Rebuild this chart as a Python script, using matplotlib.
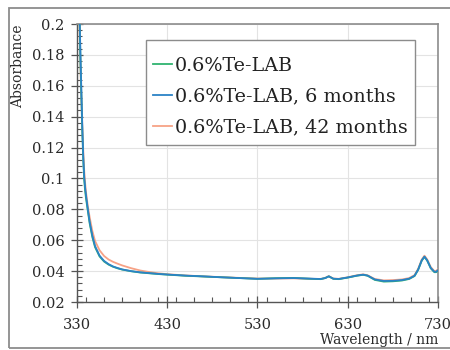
import matplotlib
matplotlib.use("Agg")
import matplotlib.pyplot as plt
from matplotlib.ticker import MultipleLocator, FuncFormatter
from matplotlib.patches import Rectangle

# Absorbance spectra of 0.6%Te-LAB glass, fresh and aged
wavelength = [330, 332, 333, 334, 335, 336, 337, 338, 339, 340, 342, 344, 347,
              350, 355, 360, 365, 370, 375, 380, 390, 400, 410, 420, 430, 450,
              470, 490, 510, 530, 550, 570, 590, 600, 605, 609, 614, 620, 630,
              640, 647, 652, 660, 670, 680, 690, 698, 704, 708, 712, 715, 718,
              722, 726, 728, 730]

fresh = [0.34, 0.235, 0.198, 0.172, 0.150, 0.128, 0.111, 0.099, 0.092, 0.087,
         0.079, 0.071, 0.062, 0.0555, 0.0495, 0.0462, 0.0442, 0.0428, 0.0418,
         0.0410, 0.0399, 0.0391, 0.0386, 0.0381, 0.0377, 0.0370, 0.0365,
         0.0360, 0.0355, 0.0350, 0.0354, 0.0356, 0.0350, 0.0348, 0.0355,
         0.0366, 0.0350, 0.0348, 0.0358, 0.0370, 0.0376, 0.0370, 0.0343,
         0.0332, 0.0334, 0.0339, 0.0349, 0.0368, 0.0408, 0.0468, 0.0492,
         0.0468, 0.0418, 0.0393, 0.0393, 0.0403]

six_months = [0.35, 0.240, 0.202, 0.176, 0.153, 0.131, 0.113, 0.101, 0.094,
              0.089, 0.080, 0.072, 0.063, 0.0562, 0.0500, 0.0466, 0.0445,
              0.0430, 0.0420, 0.0411, 0.0400, 0.0392, 0.0387, 0.0382, 0.0378,
              0.0371, 0.0366, 0.0360, 0.0355, 0.0350, 0.0353, 0.0355, 0.0351,
              0.0349, 0.0355, 0.0366, 0.0351, 0.0349, 0.0359, 0.0371, 0.0377,
              0.0371, 0.0346, 0.0336, 0.0337, 0.0342, 0.0351, 0.0370, 0.0410,
              0.0470, 0.0494, 0.0470, 0.0420, 0.0396, 0.0396, 0.0406]

forty_two_months = [0.36, 0.225, 0.192, 0.168, 0.149, 0.132, 0.117, 0.105,
                    0.097, 0.091, 0.082, 0.075, 0.066, 0.0595, 0.0535, 0.0498,
                    0.0475, 0.0460, 0.0448, 0.0437, 0.0419, 0.0404, 0.0394,
                    0.0386, 0.0380, 0.0372, 0.0366, 0.0361, 0.0356, 0.0352,
                    0.0352, 0.0353, 0.0350, 0.0349, 0.0356, 0.0368, 0.0352,
                    0.0350, 0.0360, 0.0373, 0.0379, 0.0373, 0.0349, 0.0340,
                    0.0342, 0.0346, 0.0355, 0.0374, 0.0415, 0.0475, 0.0500,
                    0.0476, 0.0426, 0.0400, 0.0402, 0.0412]

labels = ["0.6%Te-LAB", "0.6%Te-LAB, 6 months", "0.6%Te-LAB, 42 months"]
colors = ["#2fb36f", "#2b82c6", "#f7a286"]

x_ticks = [330, 430, 530, 630, 730]

plt.rcParams["font.family"] = ["DejaVu Serif"]

fig = plt.figure(figsize=(4.5, 3.5), dpi=100)
ax = fig.add_axes([77 / 450, 48 / 350, 361 / 450, 278 / 350])

# outer chart frame
fig.patches.append(Rectangle((9 / 450, 2 / 350), 1.2, 340 / 350,
                             transform=fig.transFigure, fill=False,
                             edgecolor="#8c8c8c", linewidth=1.3, zorder=0))

series = [fresh, six_months, forty_two_months]
lines = {}
for i in (2, 0, 1):
    (ln,) = ax.plot(wavelength, series[i], color=colors[i], linewidth=1.3,
                    label=labels[i], zorder=3 + (i == 1))
    lines[i] = ln

ax.set_xlim(330, 730)
ax.set_ylim(0.02, 0.2)
ax.set_xticks(x_ticks)
ax.xaxis.set_minor_locator(MultipleLocator(20))
ax.yaxis.set_major_locator(MultipleLocator(0.02))
ax.yaxis.set_minor_locator(MultipleLocator(0.004))
ax.yaxis.set_major_formatter(
    FuncFormatter(lambda v, p: f"{v:.2f}".rstrip("0").rstrip(".")))

ax.grid(True, which="major", color="#e3e3e3", linewidth=0.8, zorder=0)
ax.set_axisbelow(True)

for side in ("top", "right"):
    ax.spines[side].set_color("#8c8c8c")
    ax.spines[side].set_linewidth(1.2)
for side in ("left", "bottom"):
    ax.spines[side].set_color("#555555")
    ax.spines[side].set_linewidth(1.0)

ax.tick_params(which="major", direction="inout", length=8, width=0.9,
               color="#555555", labelsize=10.5, labelcolor="#2a2a2a")
ax.tick_params(which="minor", direction="in", length=3.5, width=0.8,
               color="#555555")
ax.tick_params(axis="x", which="major", pad=7.5)
ax.tick_params(axis="y", which="major", pad=5)

ax.set_ylabel("Absorbance", fontsize=10, color="#2a2a2a", loc="top",
              labelpad=5)
ax.set_xlabel("Wavelength / nm", fontsize=10, color="#2a2a2a", loc="right",
              labelpad=0.5)

# legend box drawn as its own frame, entries placed inside it
ax.add_patch(Rectangle((0.191, 0.565), 0.936 - 0.191, 0.942 - 0.565,
                       transform=ax.transAxes, facecolor="white",
                       edgecolor="#8c8c8c", linewidth=1.0, zorder=5))
handles = [lines[0], lines[1], lines[2]]
leg = ax.legend(handles, labels, loc="upper left",
                bbox_to_anchor=(0.21, 0.881), borderaxespad=0, borderpad=0,
                fontsize=13.8, handlelength=1.0, handletextpad=0.15,
                labelspacing=0.66, frameon=False, labelcolor="#222222")
leg.set_zorder(6)

fig.savefig("out.png", dpi=100)
